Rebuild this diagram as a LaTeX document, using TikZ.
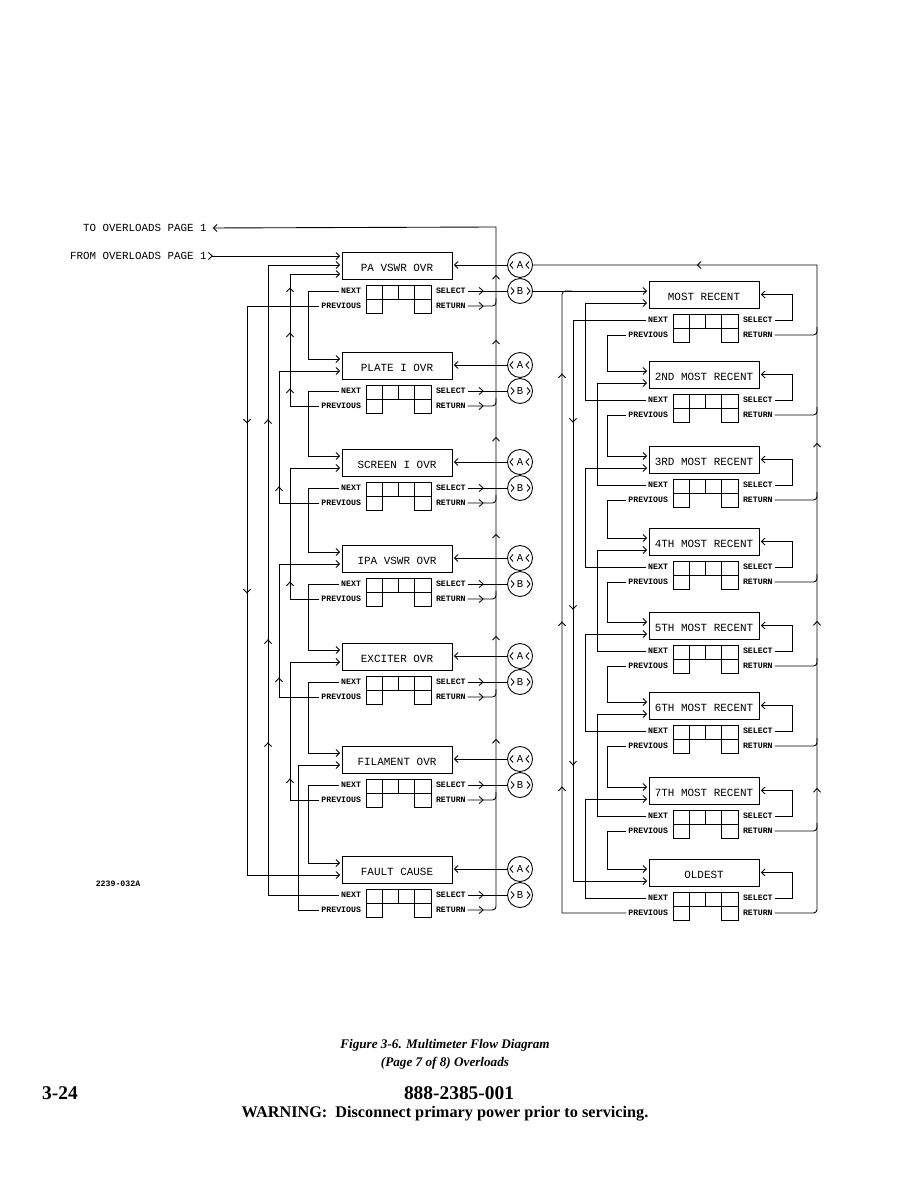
\documentclass[tikz,border=0pt]{standalone}
\usepackage{fontspec}
\setmainfont{Liberation Serif}
\newfontfamily\mmplot{Liberation Mono}
\usetikzlibrary{arrows.meta,calc,decorations.markings}
% one screen: box, key pad and its four key labels
\newcommand{\mmscreen}[6]{%
  \begin{scope}[shift={(#2,#3)}]
    \node[mmbox] (#1) at (55,13.5) {#4};
    \draw[mmline] (24,33) rectangle (89,47) (24,47) rectangle (40.25,61)
      (72.75,47) rectangle (89,61) (40.25,33) -- (40.25,47)
      (56.5,33) -- (56.5,47) (72.75,33) -- (72.75,47);
    \node[mmsmall, anchor=east] (#1-next) at (21,39) {NEXT};
    \node[mmsmall, anchor=east] (#1-prev) at (21,54) {PREVIOUS};
    \node[mmsmall, anchor=west] (#1-sel) at (92,39) {SELECT};
    \node[mmsmall, anchor=west] (#1-ret) at (92,54) {RETURN};
    \coordinate (#1-ina) at (0,#5);
    \coordinate (#1-inb) at (0,#6);
  \end{scope}}
% connector circles
\newcommand{\mmconA}[3]{%
  \node[mmcirc] (#1) at (#2,#3) {A};
  \begin{scope}[shift={(#2,#3)}]
    \draw[mmline] (-7,-3.5) -- (-10,0) -- (-7,3.5) (9,-3.5) -- (6,0) -- (9,3.5);
  \end{scope}}
\newcommand{\mmconB}[3]{%
  \node[mmcirc] (#1) at (#2,#3) {B};
  \begin{scope}[shift={(#2,#3)}]
    \draw[mmline] (-9,-3.5) -- (-6,0) -- (-9,3.5) (7,-3.5) -- (10,0) -- (7,3.5);
  \end{scope}}
\tikzset{
  mmline/.style={draw=black, line width=0.75pt},
  mmarr/.style={mmline, ->, shorten >=1.5pt},
  mmmid/.style={postaction={decorate, decoration={markings, mark=at position #1 with {\arrow{>}}}}},
  mmbox/.style={mmline, rectangle, minimum width=93.5pt, minimum height=22.95pt, inner sep=0pt, outer sep=0pt,
    font=\mmplot\fontsize{9.3}{11}\selectfont, text height=10.5pt, text depth=0pt},
  mmsmall/.style={inner sep=1.5pt, font=\mmplot\bfseries\fontsize{7}{8}\selectfont},
  mmtext/.style={inner sep=1pt, font=\mmplot\fontsize{9.2}{11}\selectfont},
  mmcirc/.style={mmline, circle, minimum size=21.25pt, inner sep=0pt, outer sep=0pt, font=\mmplot\fontsize{9}{10}\selectfont},
  mmcap/.style={inner sep=0pt, font=\bfseries\itshape\fontsize{11.2}{13}\selectfont},
  mmfoot/.style={inner sep=0pt, font=\bfseries\fontsize{13.8}{16}\selectfont},
  mmnum/.style={inner sep=0pt, font=\bfseries\fontsize{16.5}{18}\selectfont}
}
\begin{document}
\begin{tikzpicture}[x=0.85pt, y=-0.85pt, >={Straight Barb[length=3.2pt,width=6pt]}]
  \useasboundingbox (0,0) rectangle (918,1188);

  % overload screens
  \mmscreen{pa}{342}{252}{PA VSWR OVR}{4}{22}
  \mmscreen{plate}{342}{352}{PLATE I OVR}{7}{19}
  \mmscreen{screen}{342}{449}{SCREEN I OVR}{7}{19}
  \mmscreen{ipa}{342}{545}{IPA VSWR OVR}{7}{19}
  \mmscreen{exciter}{342}{643}{EXCITER OVR}{7}{19}
  \mmscreen{filament}{342}{746}{FILAMENT OVR}{7}{19}
  \mmscreen{fault}{342}{856}{FAULT CAUSE}{7}{19}
  \foreach \s/\t in {pa/252, plate/352, screen/449, ipa/545, exciter/643, filament/746, fault/856} {
    \mmconA{\s-a}{520}{\t+13}
    \mmconB{\s-b}{520}{\t+39}
  }
  \coordinate (pa-inm) at (pa.west |- pa-a);

  % overload history screens
  \mmscreen{most}{649}{281}{MOST RECENT}{10}{22}
  \mmscreen{second}{649}{361}{2ND MOST RECENT}{10}{22}
  \mmscreen{third}{649}{446}{3RD MOST RECENT}{10}{22}
  \mmscreen{fourth}{649}{528}{4TH MOST RECENT}{10}{22}
  \mmscreen{fifth}{649}{612}{5TH MOST RECENT}{10}{22}
  \mmscreen{sixth}{649}{692}{6TH MOST RECENT}{10}{22}
  \mmscreen{seventh}{649}{777}{7TH MOST RECENT}{10}{22}
  \mmscreen{oldest}{649}{859}{OLDEST}{10}{22}

  \node[mmtext, anchor=east] (toovl) at (208,228) {TO OVERLOADS PAGE 1};
  \node[mmtext, anchor=east] (fromovl) at (208,256) {FROM OVERLOADS PAGE 1};
  \node[mmsmall] (figno) at (118,884) {2239-032A};

  % bus lines
  \coordinate (xnx) at (308,0);
  \coordinate (xpa) at (290,0);
  \coordinate (xpb) at (279,0);
  \coordinate (xpc) at (298,0);
  \coordinate (xwn) at (268,0);
  \coordinate (xwp) at (247,0);
  \coordinate (xret) at (496,0);
  \coordinate (ytop) at (0,227);
  \coordinate (xrwp) at (562,0);
  \coordinate (xrwn) at (573,0);
  \coordinate (xrna) at (585,0);
  \coordinate (xrnb) at (597,0);
  \coordinate (xrpv) at (607,0);
  \coordinate (xrsel) at (792,0);
  \coordinate (xrret) at (817,0);

  % left column
  \draw[mmline, {Straight Barb[reversed,length=3.2pt,width=6pt]}->, shorten >=1.5pt] (fromovl.east) -- (pa-ina);
  \foreach \a/\b in {pa/plate, plate/screen, screen/ipa, ipa/exciter, exciter/filament, filament/fault}
    \draw[mmarr] (\a-next.west) -- (\a-next.west -| xnx) |- (\b-ina);
  \draw[mmarr, mmmid=40pt, mmmid=87.6pt, mmmid=125.8pt] (plate-prev.west) -- (plate-prev.west -| xpa) |- (pa-inb);
  \draw[mmarr, mmmid=48.5pt] (screen-prev.west) -- (screen-prev.west -| xpb) |- (plate-inb);
  \draw[mmarr, mmmid=40pt] (ipa-prev.west) -- (ipa-prev.west -| xpa) |- (screen-inb);
  \draw[mmarr, mmmid=51pt] (exciter-prev.west) -- (exciter-prev.west -| xpb) |- (ipa-inb);
  \draw[mmarr, mmmid=43.4pt] (filament-prev.west) -- (filament-prev.west -| xpa) |- (exciter-inb);
  \draw[mmarr] (fault-prev.west) -- (fault-prev.west -| xpc) |- (filament-inb);
  \draw[mmarr, mmmid=190.4pt, mmmid=278pt, mmmid=465pt] (fault-next.west) -- (fault-next.west -| xwn) |- (pa-inm);
  \draw[mmarr, mmmid=161.5pt, mmmid=306pt] (pa-prev.west) -- (pa-prev.west -| xwp) |- (fault-inb);
  \foreach \s in {pa, plate, screen, ipa, exciter, filament, fault} {
    \draw[mmarr] (\s-a.west) -- (\s-a.west -| \s.east);
    \draw[mmline, mmmid=13.6pt] (\s-sel.east) -- (\s-b.west);
  }
  \foreach \s in {pa, plate, screen, ipa, exciter, filament}
    \draw[mmline, rounded corners=3pt, mmmid=13.6pt] (\s-ret.east) -- (\s-ret.east -| xret) -- ++(0,-8);
  \draw[mmarr, shorten >=4pt, mmmid=13.6pt, mmmid=168.3pt, mmmid=255.9pt, mmmid=342.6pt, mmmid=425pt, mmmid=507.5pt, mmmid=562.7pt]
    (fault-ret.east) [rounded corners=3pt] -- (fault-ret.east -| xret) [sharp corners] -- (xret |- ytop) -- (toovl.east);

  % right column
  \draw[mmarr] (pa-b.east) -- (most-ina);
  \draw[mmline, mmmid=162.4pt, mmmid=302.6pt, mmmid=513.4pt]
    (oldest-prev.west) -- (oldest-prev.west -| xrwp) [rounded corners=3pt] -- (xrwp |- most-ina) -- ++(10,0);
  \draw[mmarr, mmmid=149.6pt, mmmid=308.6pt, mmmid=441pt] (most-next.west) -- (most-next.west -| xrwn) |- (oldest-inb);
  \foreach \a/\b in {most/second, second/third, third/fourth, fourth/fifth, fifth/sixth, sixth/seventh, seventh/oldest}
    \draw[mmarr] (\a-prev.west) -- (\a-prev.west -| xrpv) |- (\b-ina);
  \foreach \a/\b/\x in {second/most/xrna, third/second/xrnb, fourth/third/xrna, fifth/fourth/xrnb, sixth/fifth/xrna, seventh/sixth/xrnb, oldest/seventh/xrna}
    \draw[mmarr] (\a-next.west) -- (\a-next.west -| \x) |- (\b-inb);
  \foreach \s in {most, second, third, fourth, fifth, sixth, seventh, oldest}
    \draw[mmarr] (\s-sel.east) -- (\s-sel.east -| xrsel) |- (\s.east);
  \foreach \s in {most, second, third, fourth, fifth, sixth, seventh}
    \draw[mmline, rounded corners=3pt] (\s-ret.east) -- (\s-ret.east -| xrret) -- ++(0,-8);
  \draw[mmline, mmmid=141.1pt, mmmid=283pt, mmmid=434.4pt, mmmid=687.7pt]
    (oldest-ret.east) [rounded corners=3pt] -- (oldest-ret.east -| xrret) [sharp corners] -- (xrret |- pa-a) -- (pa-a.east);

  % page text
  \node[mmcap] (cap1) at (445,1045) {Figure 3-6. Multimeter Flow Diagram};
  \node[mmcap] (cap2) at (445,1063) {(Page 7 of 8) Overloads};
  \node[mmnum, anchor=west] (pageno) at (42,1093) {3-24};
  \node[mmnum] (docno) at (459,1093) {888-2385-001};
  \node[mmfoot] (warn) at (445,1114) {WARNING:\ \ Disconnect primary power prior to servicing.};
\end{tikzpicture}
\end{document}
